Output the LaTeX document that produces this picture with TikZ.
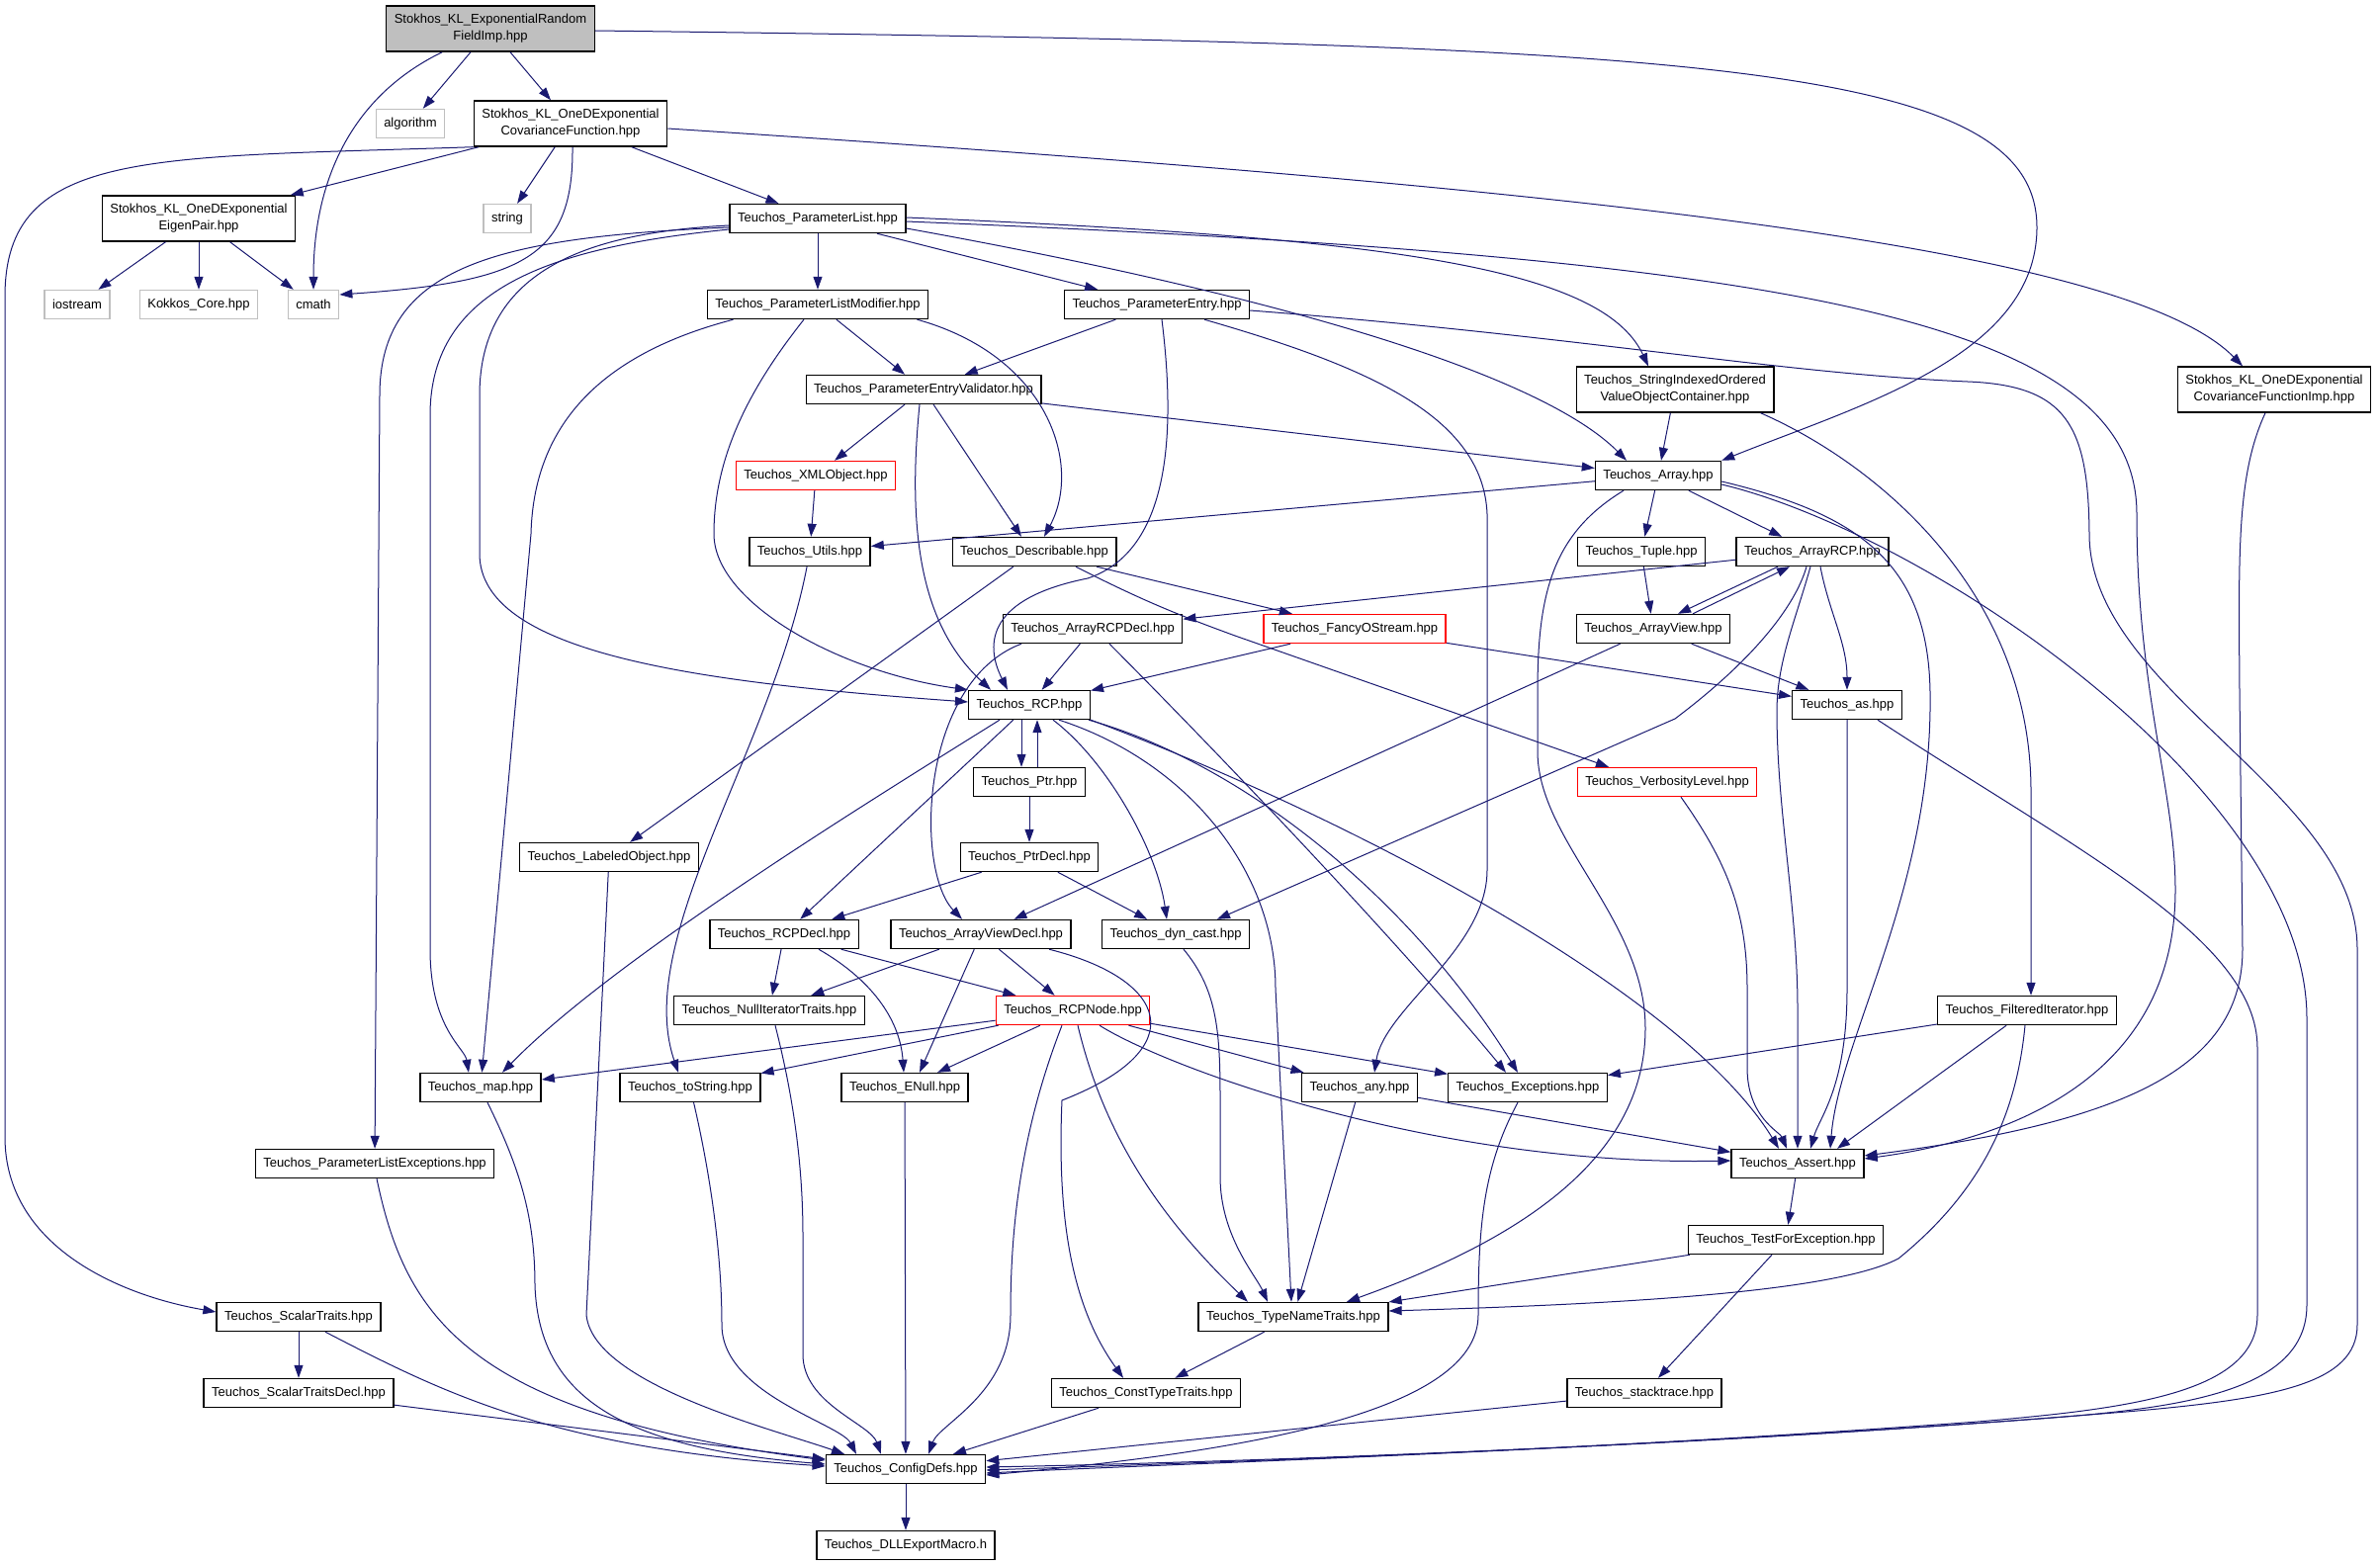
\documentclass[tikz,border=0pt]{standalone}
\usepackage{fontspec}
\setmainfont{Liberation Sans}
\usetikzlibrary{arrows.meta}
\definecolor{edgeblue}{HTML}{191970}
\definecolor{extgray}{HTML}{BFBFBF}
\begin{document}
\begin{tikzpicture}[x=1pt,y=-1pt,>={Triangle[length=13pt,width=9pt]},
  file/.style={draw,rectangle,line width=1.4pt,inner xsep=8pt,inner ysep=0pt,minimum height=29pt,font=\fontsize{13}{17}\selectfont,align=center},
  twoline/.style={minimum height=46pt},
  ext/.style={draw=extgray},
  redbox/.style={draw=red},
  rootbox/.style={fill=extgray},
  dep/.style={->,draw=edgeblue,line width=1pt}]
\useasboundingbox (0,0) rectangle (2407,1584);

\node[file,twoline,rootbox] (R) at (496,29) {Stokhos\_KL\_ExponentialRandom\\FieldImp.hpp};
\node[file,ext] (ALG) at (415,125) {algorithm};
\node[file,twoline] (COV) at (577,125) {Stokhos\_KL\_OneDExponential\\CovarianceFunction.hpp};
\node[file,twoline] (EIG) at (201,221) {Stokhos\_KL\_OneDExponential\\EigenPair.hpp};
\node[file,ext] (STR) at (513,221) {string};
\node[file,ext] (IOS) at (78,308) {iostream};
\node[file,ext] (KOK) at (201,308) {Kokkos\_Core.hpp};
\node[file,ext] (CM) at (317,308) {cmath};
\node[file] (PL) at (827,221) {Teuchos\_ParameterList.hpp};
\node[file] (PLM) at (827,308) {Teuchos\_ParameterListModifier.hpp};
\node[file] (PE) at (1170,308) {Teuchos\_ParameterEntry.hpp};
\node[file] (PEV) at (934,394) {Teuchos\_ParameterEntryValidator.hpp};
\node[file,redbox] (XML) at (825,481) {Teuchos\_XMLObject.hpp};
\node[file,twoline] (SIO) at (1694,394) {Teuchos\_StringIndexedOrdered\\ValueObjectContainer.hpp};
\node[file,twoline] (CFI) at (2300,394) {Stokhos\_KL\_OneDExponential\\CovarianceFunctionImp.hpp};
\node[file] (AR) at (1677,481) {Teuchos\_Array.hpp};
\node[file] (UT) at (819,558) {Teuchos\_Utils.hpp};
\node[file] (DES) at (1046,558) {Teuchos\_Describable.hpp};
\node[file] (TUP) at (1660,558) {Teuchos\_Tuple.hpp};
\node[file] (ARCP) at (1833,558) {Teuchos\_ArrayRCP.hpp};
\node[file] (ARCPD) at (1105,636) {Teuchos\_ArrayRCPDecl.hpp};
\node[file,redbox] (FOS) at (1370,636) {Teuchos\_FancyOStream.hpp};
\node[file] (AV) at (1672,636) {Teuchos\_ArrayView.hpp};
\node[file] (RCP) at (1041,713) {Teuchos\_RCP.hpp};
\node[file] (AS) at (1868,713) {Teuchos\_as.hpp};
\node[file] (PTR) at (1041,791) {Teuchos\_Ptr.hpp};
\node[file,redbox] (VL) at (1686,791) {Teuchos\_VerbosityLevel.hpp};
\node[file] (LO) at (616,867) {Teuchos\_LabeledObject.hpp};
\node[file] (PTRD) at (1041,867) {Teuchos\_PtrDecl.hpp};
\node[file] (RCPD) at (793,945) {Teuchos\_RCPDecl.hpp};
\node[file] (AVD) at (992,945) {Teuchos\_ArrayViewDecl.hpp};
\node[file] (DYN) at (1189,945) {Teuchos\_dyn\_cast.hpp};
\node[file] (NIT) at (778,1022) {Teuchos\_NullIteratorTraits.hpp};
\node[file,redbox] (RN) at (1085,1022) {Teuchos\_RCPNode.hpp};
\node[file] (FI) at (2050,1022) {Teuchos\_FilteredIterator.hpp};
\node[file] (MAP) at (486,1100) {Teuchos\_map.hpp};
\node[file] (TOS) at (698,1100) {Teuchos\_toString.hpp};
\node[file] (EN) at (915,1100) {Teuchos\_ENull.hpp};
\node[file] (ANY) at (1375,1100) {Teuchos\_any.hpp};
\node[file] (EXC) at (1545,1100) {Teuchos\_Exceptions.hpp};
\node[file] (PLE) at (379,1177) {Teuchos\_ParameterListExceptions.hpp};
\node[file] (ASR) at (1818,1177) {Teuchos\_Assert.hpp};
\node[file] (TFE) at (1806,1254) {Teuchos\_TestForException.hpp};
\node[file] (ST) at (302,1332) {Teuchos\_ScalarTraits.hpp};
\node[file] (TNT) at (1308,1332) {Teuchos\_TypeNameTraits.hpp};
\node[file] (STD) at (302,1409) {Teuchos\_ScalarTraitsDecl.hpp};
\node[file] (CTT) at (1159,1409) {Teuchos\_ConstTypeTraits.hpp};
\node[file] (STK) at (1663,1409) {Teuchos\_stacktrace.hpp};
\node[file] (CD) at (916,1486) {Teuchos\_ConfigDefs.hpp};
\node[file] (DLL) at (916,1563) {Teuchos\_DLLExportMacro.h};

\draw[dep] (R) .. controls (350,100) and (317,190) .. (CM);
\draw[dep] (R) -- (ALG);
\draw[dep] (R) -- (COV);
\draw[dep] ([yshift=-2pt]R.east) .. controls (1700,45) and (2060,60) .. (2060,230) .. controls (2060,360) and (1880,410) .. (AR.north east);

\draw[dep] (COV.south west) .. controls (150,160) and (5,150) .. (5,300) -- (5,1150) .. controls (5,1260) and (120,1310) .. ([yshift=5pt]ST.west);
\draw[dep] (COV) -- (EIG);
\draw[dep] (COV) -- (STR);
\draw[dep] ([xshift=2pt]COV.south) .. controls (580,260) and (530,285) .. ([yshift=10pt]CM.east);
\draw[dep] (COV) -- (PL);
\draw[dep] ([yshift=-5pt]COV.east) .. controls (1600,190) and (2150,250) .. ([xshift=-32pt]CFI.north);

\draw[dep] (EIG) -- (IOS);
\draw[dep] (EIG) -- (KOK);
\draw[dep] (EIG) -- (CM);

\draw[dep] ([yshift=-9pt]PL.west) .. controls (500,240) and (384,270) .. (384,400) -- (PLE);
\draw[dep] ([yshift=-11pt]PL.west) .. controls (560,250) and (435,290) .. (435,420) -- (435,960) .. controls (435,1040) and (470,1060) .. ([xshift=-12pt]MAP.north);
\draw[dep] ([yshift=-7pt]PL.west) .. controls (600,235) and (485,270) .. (485,400) -- (485,560) .. controls (485,660) and (700,690) .. ([yshift=3pt]RCP.west);
\draw[dep] (PL) -- (PLM);
\draw[dep] (PL) -- (PE);
\draw[dep] ([yshift=-10pt]PL.east) .. controls (1300,300) and (1560,380) .. ([xshift=-32pt]AR.north);
\draw[dep] ([yshift=1pt]PL.east) .. controls (1400,240) and (1620,270) .. ([xshift=-27pt]SIO.north);
\draw[dep] ([yshift=-3pt]PL.east) .. controls (1800,260) and (2161,320) .. (2161,520) .. controls (2161,700) and (2200,800) .. (2200,900) .. controls (2200,1080) and (2050,1150) .. ([yshift=5pt]ASR.east);

\draw[dep] ([xshift=27pt]PLM.south west) .. controls (620,355) and (540,420) .. (537,540) -- (MAP);
\draw[dep] ([xshift=-14pt]PLM.south) .. controls (760,390) and (722,460) .. (722,540) .. controls (722,610) and (850,680) .. (RCP.north west);
\draw[dep] (PLM) -- (PEV);
\draw[dep] ([xshift=-12pt]PLM.south east) .. controls (1060,360) and (1095,470) .. ([xshift=10pt]DES.north);

\draw[dep] (PE) -- (PEV);
\draw[dep] ([xshift=5pt]PE.south) .. controls (1192,460) and (1175,560) .. (1100,585) .. controls (1000,605) and (995,650) .. ([xshift=-22pt]RCP.north);
\draw[dep] ([xshift=48pt]PE.south) .. controls (1380,370) and (1500,420) .. (1504,520) -- (1504,880) .. controls (1504,960) and (1400,1020) .. ([xshift=15pt]ANY.north);
\draw[dep] ([yshift=-6pt]PE.east) .. controls (1600,340) and (1800,378) .. (1990,386) .. controls (2090,390) and (2112,430) .. (2113,540) .. controls (2113,700) and (2384,800) .. (2384,960) -- (2384,1340) .. controls (2384,1400) and (2300,1415) .. (2150,1428) .. controls (1700,1465) and (1200,1480) .. ([yshift=2pt]CD.east);

\draw[dep] (PEV) -- (XML);
\draw[dep] ([xshift=-4pt]PEV.south) .. controls (915,560) and (940,640) .. ([xshift=-39pt]RCP.north);
\draw[dep] (PEV) -- ([xshift=-13pt]DES.north);
\draw[dep] (PEV) -- (AR);

\draw[dep] (XML) -- (UT);
\draw[dep] (SIO) -- (AR);
\draw[dep] ([xshift=-14pt]SIO.south east) .. controls (1900,470) and (2054,600) .. (2054,800) -- ([xshift=4pt]FI.north);
\draw[dep] ([xshift=-9pt]CFI.south) .. controls (2262,480) and (2264,560) .. (2265,700) -- (2268,960) .. controls (2268,1080) and (2150,1135) .. ([yshift=8pt]ASR.east);

\draw[dep] (AR) -- (UT);
\draw[dep] (AR) -- (TUP);
\draw[dep] (AR) -- (ARCP);
\draw[dep] ([xshift=-35pt]AR.south) .. controls (1570,540) and (1555,600) .. (1555,700) -- (1555,760) .. controls (1555,850) and (1664,930) .. (1664,1040) .. controls (1664,1180) and (1520,1260) .. ([xshift=54pt]TNT.north);
\draw[dep] ([yshift=-6pt]AR.east) .. controls (1880,520) and (1950,570) .. (1952,700) .. controls (1955,900) and (1860,1050) .. ([xshift=33pt]ASR.north);
\draw[dep] ([yshift=-9pt]AR.east) .. controls (1950,540) and (2333,800) .. (2333,1030) -- (2333,1320) .. controls (2333,1410) and (2200,1425) .. (2050,1436) .. controls (1650,1466) and (1200,1480) .. ([yshift=-1pt]CD.east);

\draw[dep] (TUP) -- (AV);
\draw[dep] (ARCP) -- (ARCPD);
\draw[dep] ([xshift=-35pt]ARCP.south) -- ([xshift=25pt]AV.north);
\draw[dep] ([xshift=40pt]AV.north) -- ([xshift=-23pt]ARCP.south);
\draw[dep] ([xshift=8pt]ARCP.south) .. controls (1850,620) and (1868,650) .. (AS.north);
\draw[dep] ([xshift=-2pt]ARCP.south) .. controls (1815,630) and (1797,670) .. (1797,720) .. controls (1797,820) and (1818,920) .. (1818,1020) -- (ASR.north);
\draw[dep] ([xshift=-6pt]ARCP.south) .. controls (1815,615) and (1770,670) .. (1694,727) -- ([xshift=42pt]DYN.north);
\draw[dep] (AV) -- (AS);
\draw[dep] (AV) -- (AVD);

\draw[dep] (UT) .. controls (780,760) and (640,950) .. ([xshift=-12pt]TOS.north);
\draw[dep] (DES) -- (LO);
\draw[dep] (DES) -- (FOS);
\draw[dep] ([xshift=42pt]DES.south) .. controls (1160,610) and (1200,625) .. (1249,643) -- ([xshift=-59pt]VL.north);

\draw[dep] (ARCPD) -- (RCP);
\draw[dep] ([xshift=-72pt]ARCPD.south) .. controls (930,690) and (925,880) .. ([xshift=-19pt]AVD.north);
\draw[dep] ([xshift=17pt]ARCPD.south) .. controls (1250,780) and (1420,960) .. ([xshift=-22pt]EXC.north);
\draw[dep] (FOS) -- (RCP);
\draw[dep] (FOS) -- (AS);

\draw[dep] ([xshift=-8pt]RCP.south) -- ([xshift=-8pt]PTR.north);
\draw[dep] ([xshift=8pt]PTR.north) -- ([xshift=8pt]RCP.south);
\draw[dep] (RCP) -- (RCPD);
\draw[dep] ([xshift=-30pt]RCP.south) .. controls (880,810) and (620,970) .. ([xshift=22pt]MAP.north);
\draw[dep] ([xshift=24pt]RCP.south) .. controls (1120,770) and (1170,860) .. ([xshift=-9pt]DYN.north);
\draw[dep] ([xshift=30pt]RCP.south) .. controls (1200,770) and (1290,880) .. (1290,1000) -- ([xshift=-2pt]TNT.north);
\draw[dep] ([xshift=60pt]RCP.south) .. controls (1250,770) and (1420,900) .. ([xshift=-10pt]EXC.north);
\draw[dep] (RCP.south east) .. controls (1350,820) and (1700,1000) .. ([xshift=-19pt]ASR.north);

\draw[dep] (PTR) -- (PTRD);
\draw[dep] (PTRD) -- (RCPD);
\draw[dep] (PTRD) -- (DYN);

\draw[dep] (LO) -- (593,1330) .. controls (600,1400) and (780,1445) .. ([xshift=-62pt]CD.north);
\draw[dep] ([xshift=14pt]VL.south) .. controls (1745,870) and (1767,920) .. (1767,1000) -- (1767,1080) .. controls (1767,1130) and (1800,1145) .. ([xshift=-11pt]ASR.north);
\draw[dep] (AS) -- (1868,1000) .. controls (1868,1100) and (1840,1130) .. ([xshift=13pt]ASR.north);
\draw[dep] ([xshift=31pt]AS.south) .. controls (2100,860) and (2283,950) .. (2283,1060) -- (2283,1330) .. controls (2283,1410) and (2150,1425) .. (2000,1438) .. controls (1600,1468) and (1200,1480) .. ([yshift=-4pt]CD.east);

\draw[dep] (RCPD) -- (NIT);
\draw[dep] ([xshift=35pt]RCPD.south) .. controls (880,990) and (910,1030) .. ([xshift=-1pt]EN.north);
\draw[dep] (RCPD) -- (RN);
\draw[dep] (AVD) -- (NIT);
\draw[dep] (AVD) -- ([xshift=15pt]EN.north);
\draw[dep] (AVD) -- (RN);
\draw[dep] ([xshift=69pt]AVD.south) .. controls (1180,990) and (1210,1060) .. (1074,1113) .. controls (1068,1250) and (1090,1330) .. ([xshift=-23pt]CTT.north);
\draw[dep] ([xshift=8pt]DYN.south) .. controls (1230,1000) and (1234,1040) .. (1234,1110) -- (1234,1190) .. controls (1234,1250) and (1270,1290) .. ([xshift=-26pt]TNT.north);
\draw[dep] ([xshift=6pt]NIT.south) .. controls (800,1100) and (812,1170) .. (812,1250) -- (812,1370) .. controls (812,1420) and (880,1440) .. ([xshift=-25pt]CD.north);

\draw[dep] (RN) -- (MAP);
\draw[dep] (RN) -- (TOS);
\draw[dep] (RN) -- (EN);
\draw[dep] ([xshift=-11pt]RN.south) .. controls (1030,1150) and (1022,1250) .. (1022,1330) .. controls (1022,1410) and (950,1440) .. ([xshift=23pt]CD.north);
\draw[dep] ([xshift=5pt]RN.south) .. controls (1110,1120) and (1150,1210) .. ([xshift=-46pt]TNT.north);
\draw[dep] (RN) -- (ANY);
\draw[dep] (RN) -- (EXC);
\draw[dep] ([xshift=27pt]RN.south) .. controls (1180,1080) and (1450,1180) .. ([yshift=3pt]ASR.west);

\draw[dep] (FI) -- (EXC);
\draw[dep] (FI) -- ([xshift=40pt]ASR.north);
\draw[dep] ([xshift=-2pt]FI.south) .. controls (2040,1120) and (2010,1200) .. (1920,1273) .. controls (1850,1310) and (1600,1320) .. ([yshift=6pt]TNT.east);

\draw[dep] ([xshift=7pt]MAP.south) .. controls (525,1180) and (541,1230) .. (541,1300) .. controls (545,1420) and (640,1465) .. ([yshift=5pt]CD.west);
\draw[dep] (TOS) .. controls (712,1160) and (730,1250) .. (730,1340) .. controls (730,1410) and (850,1440) .. ([xshift=-50pt]CD.north);
\draw[dep] (EN) -- (CD);
\draw[dep] (ANY) -- (ASR);
\draw[dep] (ANY) -- (TNT);
\draw[dep] ([xshift=-10pt]EXC.south) .. controls (1500,1180) and (1495,1240) .. (1495,1330) .. controls (1495,1420) and (1300,1465) .. ([yshift=-6pt]CD.east);
\draw[dep] ([xshift=2pt]PLE.south) .. controls (410,1330) and (470,1430) .. ([yshift=9pt]CD.west);
\draw[dep] (ASR) -- (TFE);
\draw[dep] (TFE) -- (TNT);
\draw[dep] (TFE) -- (STK);
\draw[dep] (ST) -- (STD);
\draw[dep] ([xshift=27pt]ST.south) .. controls (450,1410) and (560,1465) .. ([yshift=3pt]CD.west);
\draw[dep] (TNT) -- (CTT);
\draw[dep] (STD) -- (CD);
\draw[dep] (CTT) -- (CD);
\draw[dep] (STK) -- (CD);
\draw[dep] (CD) -- (DLL);
\end{tikzpicture}
\end{document}
